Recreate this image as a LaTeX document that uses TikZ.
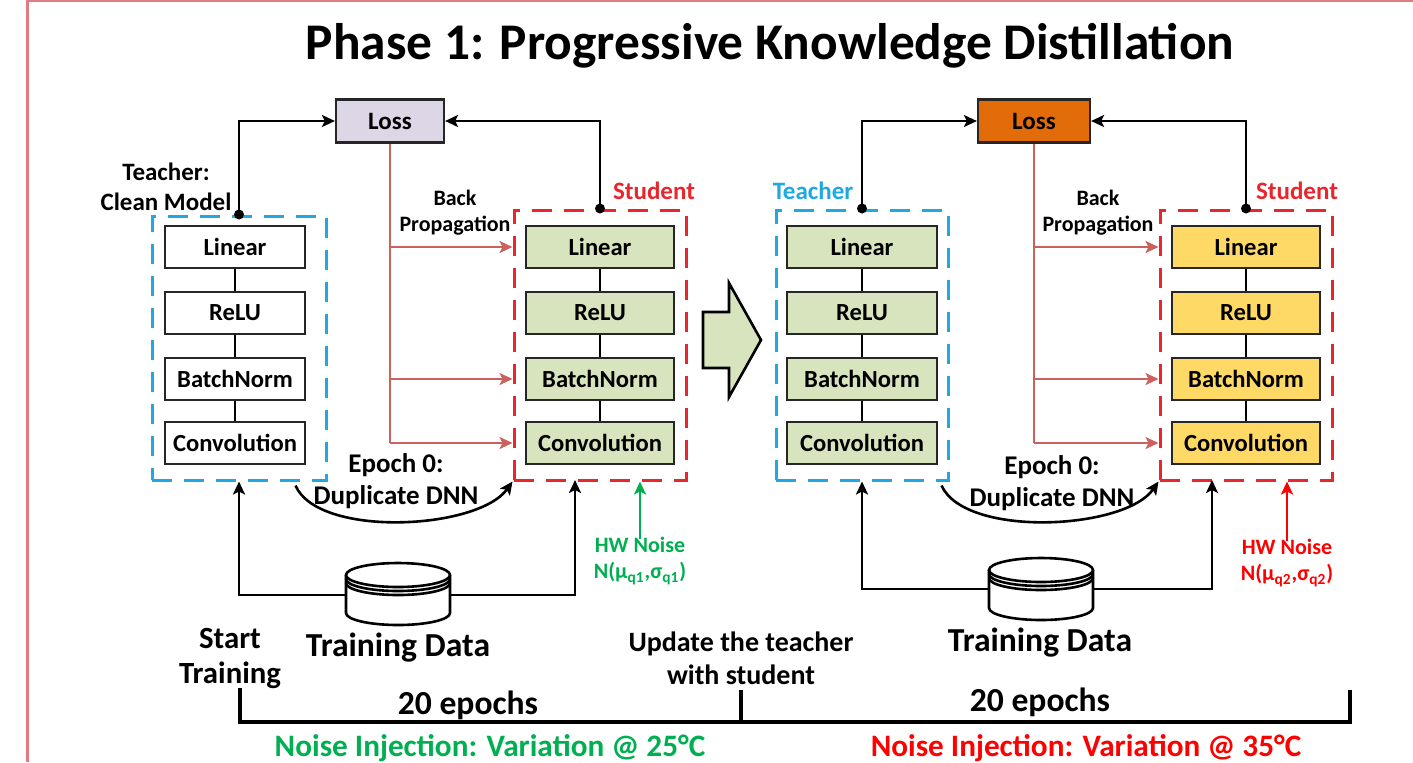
\documentclass[tikz,border=0pt]{standalone}
\usepackage{fontspec}
\setmainfont{Carlito}
\usetikzlibrary{arrows.meta,calc}

\definecolor{lossgray}{HTML}{DCD6E6}
\definecolor{lossorange}{HTML}{E36C0A}
\definecolor{layergreen}{HTML}{D7E4BD}
\definecolor{layeryellow}{HTML}{FFD966}
\definecolor{teacherblue}{HTML}{1EA9E1}
\definecolor{studentred}{HTML}{E8262B}
\definecolor{bpred}{HTML}{C9625E}
\definecolor{noisegreen}{HTML}{00B050}
\definecolor{noisered}{HTML}{FF0000}
\definecolor{framepink}{HTML}{E07B80}

\tikzset{
  layer/.style={draw=black!85, line width=1.1pt, minimum height=21pt, inner sep=0pt,
    font=\fontsize{12.3}{14}\selectfont\bfseries},
  lossbox/.style={draw=black!85, line width=1.1pt, minimum width=54pt, minimum height=21.5pt,
    inner sep=0pt, font=\fontsize{12.5}{14}\selectfont\bfseries},
  group/.style={line width=1.5pt, dash pattern=on 10pt off 6pt, inner sep=0pt},
  wire/.style={line width=1.3pt},
  link/.style={line width=1.3pt, -{Stealth[length=6.5pt,width=6pt,inset=1.5pt]}},
  bparrow/.style={bpred, line width=1.2pt, -{Stealth[length=6.5pt,width=6pt,inset=1.5pt]}},
  label/.style={font=\fontsize{12.5}{15}\selectfont\bfseries, align=center, inner sep=0pt},
  small/.style={font=\fontsize{11}{13}\selectfont\bfseries, align=center, inner sep=0pt},
  big/.style={font=\fontsize{16.8}{19}\selectfont\bfseries, align=center, inner sep=0pt},
  tick/.style={line width=1.6pt},
  dot/.style={circle, fill=black, inner sep=0pt, minimum size=5pt},
  database/.pic={
    \draw[line width=1.3pt, fill=white]
      (-52,-19) -- (-52,19) arc[start angle=180, end angle=0, x radius=52, y radius=12]
      -- (52,-19);
    \draw[line width=1.3pt, fill=white] (0,-19) ellipse[x radius=52, y radius=12];
    \draw[line width=1.3pt] (-52,-15) arc[start angle=180, end angle=0, x radius=52, y radius=12];
    \draw[line width=1.3pt] (-52,-11) arc[start angle=180, end angle=0, x radius=52, y radius=12];
  }
}

\begin{document}
\begin{tikzpicture}[x=0.5pt, y=-0.5pt]
\useasboundingbox (0,0) rectangle (1413,762);

% page frame
\draw[framepink, line width=1.5pt] (27,762) -- (27,0.8) -- (1413,0.8);

% title
\node[font=\fontsize{25.7}{30}\selectfont\bfseries, inner sep=0pt] (title) at (770,46)
  {Phase 1: Progressive Knowledge Distillation};

% ---------------- left stage ----------------
\node[lossbox, fill=lossgray] (loss1) at (390,121) {Loss};

\node[group, draw=teacherblue, minimum width=87pt, minimum height=132pt] (T1) at (239,348) {};
\node[group, draw=studentred, minimum width=86pt, minimum height=135pt] (S1) at (600,345) {};

\foreach \n/\t/\y in {a/Linear/247, b/ReLU/313, c/BatchNorm/379, d/Convolution/443} {
  \node[layer, fill=white, minimum width=70pt] (T1\n) at (235,\y) {\t};
  \node[layer, fill=layergreen, minimum width=74pt] (S1\n) at (600,\y) {\t};
}
\foreach \u/\v in {a/b, b/c, c/d} {
  \draw[wire] (T1\u) -- (T1\v);
  \draw[wire] (S1\u) -- (S1\v);
}

\node[label] (tlab1) at (166,187) {Teacher:\\Clean Model};
\node[label, text=studentred] (slab1) at (654,191) {Student};

\node[dot] (td1) at (T1.north) {};
\node[dot] (sd1) at (S1.north) {};
\draw[link] (td1.center) |- (loss1.west);
\draw[link] (sd1.center) |- (loss1.east);

% back propagation
\node[small] (bp1) at (455,213) {Back\\Propagation};
\draw[wire, bpred, line width=1.2pt] (loss1.south) -- (loss1.south |- S1d);
\draw[bparrow] (loss1.south |- S1a) -- (S1.west |- S1a);
\draw[bparrow] (loss1.south |- S1c) -- (S1.west |- S1c);
\draw[bparrow] (loss1.south |- S1d) -- (S1.west |- S1d);

% duplicate at epoch 0
\coordinate (c1s) at ($(T1.south east)+(-32,4)$);
\draw[link] (c1s) .. controls (318,538) and (478,530) .. (S1.south west);
\node[label, font=\fontsize{13.5}{16}\selectfont\bfseries] (ep1) at (396,481) {Epoch 0:\\Duplicate DNN};

% training data
\node[minimum width=52pt, minimum height=31pt, inner sep=0pt] (db1) at (398,595) {};
\pic at (398,594) {database};
\coordinate (S1in) at (575,480);
\draw[link] (db1.west) -| (T1.south);
\draw[link] (db1.east) -| (S1in);
\node[big] (td1lab) at (398,648) {Training Data};

% hardware noise
\node[small, text=noisegreen] (hw1) at (640,561) {HW Noise\\N(μ\textsubscript{q1},σ\textsubscript{q1})};
\draw[line width=1.3pt, noisegreen, -{Stealth[length=6.5pt,width=6pt,inset=1.5pt]}]
  ($(hw1.north)+(0,2)$) -- (hw1.north |- S1.south);

% stage transition arrow
\draw[line width=1.3pt, fill=layergreen, line join=miter]
  (703,312) -- (729,312) -- (729,283) -- (761,340) -- (729,397) -- (729,368) -- (703,368) -- cycle;

% ---------------- right stage ----------------
\node[lossbox, fill=lossorange, minimum width=56pt] (loss2) at (1034,121) {Loss};

\node[group, draw=teacherblue, minimum width=86pt, minimum height=135pt] (T2) at (862,345) {};
\node[group, draw=studentred, minimum width=86pt, minimum height=135pt] (S2) at (1246,345) {};

\foreach \n/\t/\y in {a/Linear/247, b/ReLU/313, c/BatchNorm/379, d/Convolution/443} {
  \node[layer, fill=layergreen, minimum width=75pt] (T2\n) at (862,\y) {\t};
  \node[layer, fill=layeryellow, minimum width=74pt] (S2\n) at (1246,\y) {\t};
}
\foreach \u/\v in {a/b, b/c, c/d} {
  \draw[wire] (T2\u) -- (T2\v);
  \draw[wire] (S2\u) -- (S2\v);
}

\node[label, text=teacherblue] (tlab2) at (813,191) {Teacher};
\node[label, text=studentred] (slab2) at (1297,191) {Student};

\node[dot] (td2) at (T2.north) {};
\node[dot] (sd2) at (S2.north) {};
\draw[link] (td2.center) |- (loss2.west);
\draw[link] (sd2.center) |- (loss2.east);

\node[small] (bp2) at (1098,213) {Back\\Propagation};
\draw[wire, bpred, line width=1.2pt] (loss2.south) -- (loss2.south |- S2d);
\draw[bparrow] (loss2.south |- S2a) -- (S2.west |- S2a);
\draw[bparrow] (loss2.south |- S2c) -- (S2.west |- S2c);
\draw[bparrow] (loss2.south |- S2d) -- (S2.west |- S2d);

\coordinate (c2s) at ($(T2.south east)+(-8,4)$);
\draw[link] (c2s) .. controls (965,538) and (1125,530) .. (S2.south west);
\node[label, font=\fontsize{13.5}{16}\selectfont\bfseries] (ep2) at (1052,483) {Epoch 0:\\Duplicate DNN};

\node[minimum width=52pt, minimum height=31pt, inner sep=0pt] (db2) at (1041,589) {};
\pic at (1041,589) {database};
\coordinate (S2in) at (1212,480);
\draw[link] (db2.west) -| (T2.south);
\draw[link] (db2.east) -| (S2in);
\node[big] (td2lab) at (1040,643) {Training Data};

\node[small, text=noisered] (hw2) at (1287,563) {HW Noise\\N(μ\textsubscript{q2},σ\textsubscript{q2})};
\draw[line width=1.3pt, noisered, -{Stealth[length=6.5pt,width=6pt,inset=1.5pt]}]
  ($(hw2.north)+(0,2)$) -- (hw2.north |- S2.south);

% ---------------- timeline ----------------
\node[font=\fontsize{15.4}{17.5}\selectfont\bfseries, align=center, inner sep=0pt] (start) at (230,658) {Start\\Training};
\node[font=\fontsize{14}{16.5}\selectfont\bfseries, align=center, inner sep=0pt] (upd) at (741,658) {Update the teacher\\with student};

\coordinate (t0) at (240,722);
\coordinate (t1) at (741,722);
\coordinate (t2) at (1350,722);
\draw[tick] (240,688) -- (t0) -- (t2) -- (1350,690);
\draw[tick] (741,690) -- (t1);

\node[big] (ep20a) at (468,705) {20 epochs};
\node[big] (ep20b) at (1040,702) {20 epochs};

\node[font=\fontsize{15.6}{18}\selectfont\bfseries, text=noisegreen, inner sep=0pt] (var1) at (490,748)
  {Noise Injection: Variation @ 25°C};
\node[font=\fontsize{15.6}{18}\selectfont\bfseries, text=noisered, inner sep=0pt] (var2) at (1086,748)
  {Noise Injection: Variation @ 35°C};
\end{tikzpicture}
\end{document}
